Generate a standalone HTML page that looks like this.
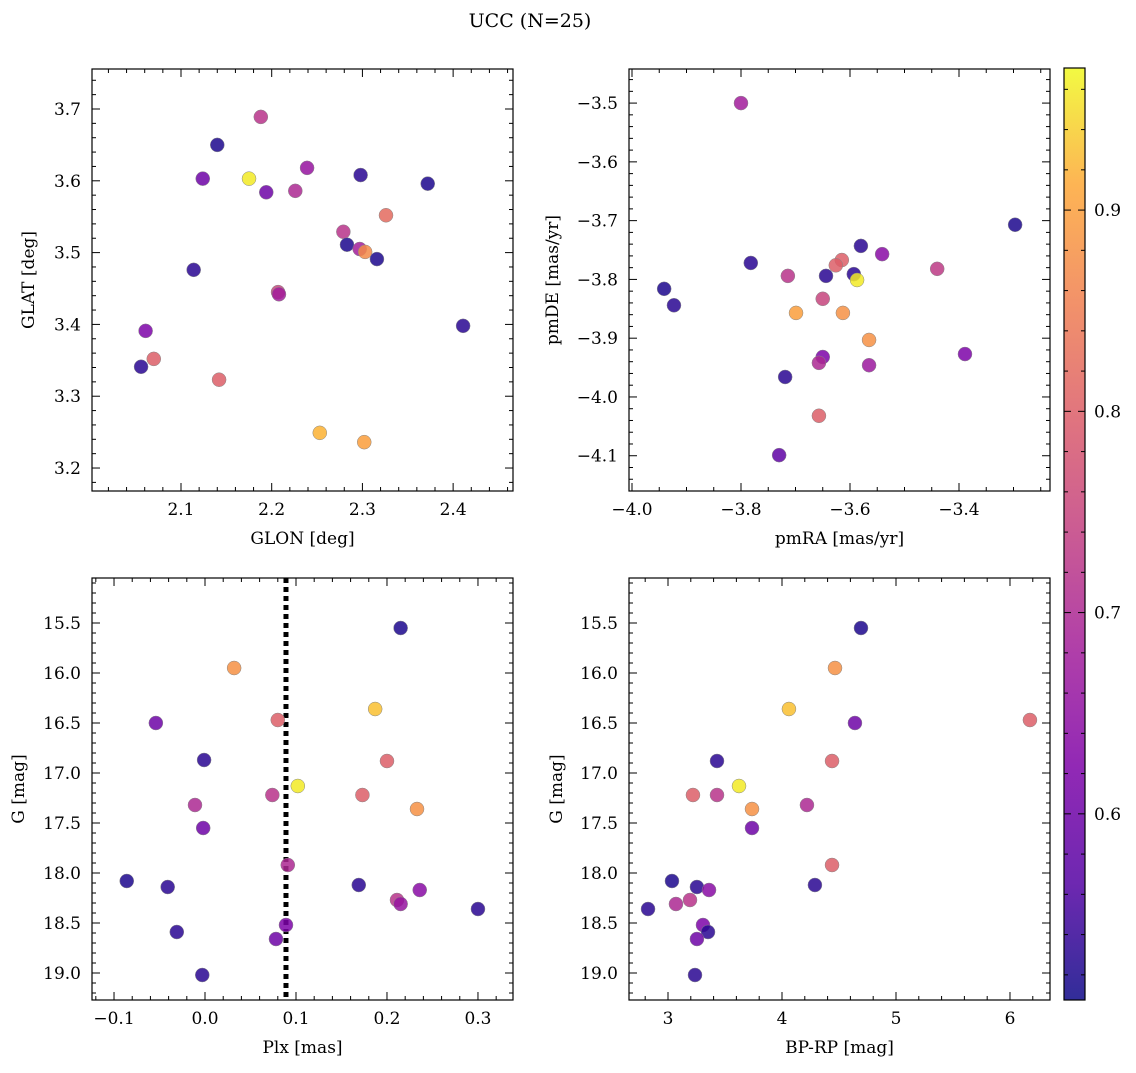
<!DOCTYPE html>
<html><head><meta charset="utf-8"><style>
body{margin:0;background:#fff;}
svg text{font-family:"DejaVu Serif","Liberation Serif",serif;fill:#000;}
</style></head><body>
<svg id="fig" width="1136" height="1068" xmlns="http://www.w3.org/2000/svg">
<text x="530" y="27" font-size="19" text-anchor="middle">UCC (N=25)</text>
</svg>
<script>
// Panel 1: GLON / GLAT
const glon=[2.188,2.140,2.175,2.124,2.194,2.226,2.239,2.298,2.372,2.326,2.279,2.283,2.297,2.303,2.316,2.114,2.207,2.208,2.411,2.061,2.070,2.056,2.142,2.253,2.302];
const glat=[3.689,3.650,3.603,3.603,3.584,3.586,3.618,3.608,3.596,3.552,3.529,3.511,3.505,3.501,3.491,3.476,3.445,3.442,3.398,3.391,3.352,3.341,3.323,3.249,3.236];
const prob1=[0.72,0.52,0.96,0.60,0.60,0.70,0.66,0.53,0.52,0.82,0.72,0.52,0.68,0.87,0.52,0.53,0.75,0.68,0.53,0.62,0.80,0.53,0.80,0.92,0.90];
// Panel 2: pmRA / pmDE
const pmra=[-3.800,-3.297,-3.580,-3.541,-3.782,-3.615,-3.626,-3.440,-3.714,-3.644,-3.593,-3.587,-3.941,-3.923,-3.650,-3.699,-3.613,-3.565,-3.650,-3.389,-3.657,-3.565,-3.719,-3.657,-3.730];
const pmde=[-3.500,-3.707,-3.743,-3.757,-3.772,-3.767,-3.776,-3.782,-3.794,-3.794,-3.791,-3.801,-3.816,-3.844,-3.833,-3.857,-3.857,-3.903,-3.932,-3.927,-3.942,-3.946,-3.966,-4.032,-4.099];
const prob2=[0.68,0.52,0.53,0.64,0.53,0.80,0.80,0.73,0.72,0.53,0.53,0.96,0.52,0.53,0.75,0.90,0.88,0.88,0.62,0.62,0.70,0.67,0.53,0.80,0.58];
// Panel 3: Plx / G
const plx=[0.215,0.032,0.187,0.080,-0.054,-0.001,0.200,0.102,0.074,0.173,-0.011,0.233,-0.002,0.091,-0.086,0.169,-0.041,0.236,0.211,0.215,0.300,0.089,-0.031,0.078,-0.003];
const gmag=[15.55,15.95,16.36,16.47,16.50,16.87,16.88,17.13,17.22,17.22,17.32,17.36,17.55,17.92,18.08,18.12,18.14,18.17,18.27,18.31,18.36,18.52,18.59,18.66,19.02];
const prob3=[0.52,0.88,0.93,0.80,0.60,0.53,0.80,0.96,0.72,0.80,0.70,0.88,0.60,0.70,0.52,0.53,0.53,0.64,0.72,0.66,0.53,0.62,0.53,0.60,0.53];
const plxLine=[0.089];
// Panel 4: BP-RP / G
const bprp=[4.693,4.465,4.061,6.175,4.640,3.430,4.439,3.623,3.219,3.430,3.737,4.219,3.737,4.439,3.035,3.254,4.289,3.360,3.070,3.193,2.825,3.307,3.351,3.254,3.237];
const gmag4=[15.55,15.95,16.36,16.47,16.50,16.88,16.88,17.13,17.22,17.22,17.36,17.32,17.55,17.92,18.08,18.14,18.12,18.17,18.31,18.27,18.36,18.52,18.59,18.66,19.02];
const prob4=[0.52,0.88,0.93,0.80,0.60,0.53,0.80,0.96,0.80,0.72,0.88,0.70,0.60,0.80,0.52,0.53,0.53,0.64,0.70,0.72,0.53,0.62,0.53,0.60,0.53];
const cbTicks=[0.6,0.7,0.8,0.9];

const NS="http://www.w3.org/2000/svg";
const svg=document.getElementById('fig');
function mk(tag,attrs,parent){const e=document.createElementNS(NS,tag);for(const k in attrs)e.setAttribute(k,attrs[k]);(parent||svg).appendChild(e);return e;}
const plasma=[[0,13,8,135],[0.125,84,2,163],[0.25,126,3,168],[0.375,162,29,154],[0.5,193,62,129],[0.625,219,92,104],[0.75,240,127,79],[0.875,253,167,54],[1,240,249,33]];
const VMIN=0.5075,VMAX=0.9706;
function cmap(v){let t=(v-VMIN)/(VMAX-VMIN);t=Math.max(0,Math.min(1,t));
 for(let i=0;i<plasma.length-1;i++){const a=plasma[i],b=plasma[i+1];if(t<=b[0]){const f=(t-a[0])/(b[0]-a[0]);
 return `rgb(${Math.round(a[1]+f*(b[1]-a[1]))},${Math.round(a[2]+f*(b[2]-a[2]))},${Math.round(a[3]+f*(b[3]-a[3]))})`;}}return 'rgb(240,249,33)';}
function fmt(v,d){let s=v.toFixed(d);if(s.startsWith('-'))s='\u2212'+s.slice(1);if(s==='\u22120.0')s='0.0';return s;}

function panel(o){
 const g=mk('g',{});
 
 
 const X=v=>o.x0+(v-o.xmin)/(o.xmax-o.xmin)*(o.x1-o.x0);
 const Y=o.yinv?(v=>o.y0+(v-o.ymin)/(o.ymax-o.ymin)*(o.y1-o.y0)):(v=>o.y1-(v-o.ymin)/(o.ymax-o.ymin)*(o.y1-o.y0));
 const eps=1e-9;
 function ticksFor(min,max,step,nd){const maj=[],min_=[];const s0=Math.ceil((min-eps)/ (step/nd));
  for(let k=s0;k*(step/nd)<=max+eps;k++){const v=k*step/nd;if(Math.abs(Math.round(v/step)*step-v)<1e-7)maj.push(Math.round(v/step)*step);else min_.push(v);}return [maj,min_];}
 const [xM,xm]=ticksFor(o.xmin,o.xmax,o.xstep,o.xnd);
 const [yM,ym]=ticksFor(Math.min(o.ymin,o.ymax),Math.max(o.ymin,o.ymax),o.ystep,o.ynd);
 xM.forEach(v=>{const px=X(v);mk('line',{x1:px,x2:px,y1:o.y1,y2:o.y1-8,stroke:'#000'},g);mk('line',{x1:px,x2:px,y1:o.y0,y2:o.y0+8,stroke:'#000'},g);
  const t=mk('text',{x:px,y:o.y1+24,'font-size':17,'text-anchor':'middle'},g);t.textContent=fmt(v,o.xd);
  });
 xm.forEach(v=>{const px=X(v);mk('line',{x1:px,x2:px,y1:o.y1,y2:o.y1-4,stroke:'#000'},g);mk('line',{x1:px,x2:px,y1:o.y0,y2:o.y0+4,stroke:'#000'},g);});
 yM.forEach(v=>{const py=Y(v);mk('line',{x1:o.x0,x2:o.x0+8,y1:py,y2:py,stroke:'#000'},g);mk('line',{x1:o.x1,x2:o.x1-8,y1:py,y2:py,stroke:'#000'},g);
  const t=mk('text',{x:o.x0-11,y:py+6,'font-size':17,'text-anchor':'end'},g);t.textContent=fmt(v,o.yd);
  });
 ym.forEach(v=>{const py=Y(v);mk('line',{x1:o.x0,x2:o.x0+4,y1:py,y2:py,stroke:'#000'},g);mk('line',{x1:o.x1,x2:o.x1-4,y1:py,y2:py,stroke:'#000'},g);});
 const xl=mk('text',{x:(o.x0+o.x1)/2,y:o.y1+53,'font-size':17,'text-anchor':'middle'},g);xl.textContent=o.xlabel;
 
 const yc=(o.y0+o.y1)/2;const yl=mk('text',{x:o.ylx,y:yc,'font-size':17,'text-anchor':'middle',transform:`rotate(-90 ${o.ylx} ${yc})`},g);yl.textContent=o.ylabel;
 
 if(o.vline!==undefined){const l=mk('line',{x1:X(o.vline),x2:X(o.vline),y1:o.y0,y2:o.y1,stroke:'#000','stroke-width':5,'stroke-dasharray':'5 4'},g);
  }
 o.xs.forEach((v,i)=>{const c=mk('circle',{cx:X(v),cy:Y(o.ys[i]),r:7,fill:cmap(o.cs[i]),'fill-opacity':0.85,stroke:'#888','stroke-width':0.5},g);
  });
 const f=mk('rect',{x:o.x0,y:o.y0,width:o.x1-o.x0,height:o.y1-o.y0,fill:'none',stroke:'#000','stroke-width':1.2},g);
 
}
panel({name:'glon-glat-panel',x0:92,x1:513,y0:69,y1:491,xmin:2.0019,xmax:2.466,ymin:3.168,ymax:3.7557,xstep:0.1,xnd:5,ystep:0.1,ynd:5,xd:1,yd:1,xlabel:'GLON [deg]',ylabel:'GLAT [deg]',ylx:34,xs:glon,ys:glat,cs:prob1});
panel({name:'pm-panel',x0:629,x1:1050,y0:69,y1:491,xmin:-4.0055,xmax:-3.233,ymin:-4.160,ymax:-3.442,xstep:0.2,xnd:4,ystep:0.1,ynd:5,xd:1,yd:1,xlabel:'pmRA [mas/yr]',ylabel:'pmDE [mas/yr]',ylx:558,xs:pmra,ys:pmde,cs:prob2});
panel({name:'plx-g-panel',x0:92,x1:513,y0:578,y1:1000,xmin:-0.1242,xmax:0.3385,ymin:15.05,ymax:19.27,yinv:true,xstep:0.1,xnd:5,ystep:0.5,ynd:5,xd:1,yd:1,xlabel:'Plx [mas]',ylabel:'G [mag]',ylx:24,xs:plx,ys:gmag,cs:prob3,vline:plxLine[0]});
panel({name:'cmd-panel',x0:629,x1:1050,y0:578,y1:1000,xmin:2.658,xmax:6.351,ymin:15.05,ymax:19.27,yinv:true,xstep:1,xnd:5,ystep:0.5,ynd:5,xd:0,yd:1,xlabel:'BP-RP [mag]',ylabel:'G [mag]',ylx:562,xs:bprp,ys:gmag4,cs:prob4});
const cb=mk('g',{});


const cx0=1064,cx1=1085,cy0=68,cy1=1000;
const defs=mk('defs',{},cb);const lg=mk('linearGradient',{id:'cbg',x1:0,y1:1,x2:0,y2:0},defs);
plasma.forEach(s=>mk('stop',{offset:s[0],'stop-color':`rgb(${s[1]},${s[2]},${s[3]})`,'stop-opacity':0.85},lg));
mk('rect',{x:cx0,y:cy0,width:cx1-cx0,height:cy1-cy0,fill:'url(#cbg)',stroke:'#000','stroke-width':1.2},cb);
const CY=v=>cy1-(v-VMIN)/(VMAX-VMIN)*(cy1-cy0);
for(let v=0.52;v<VMAX;v+=0.02){const py=CY(v);const isMaj=cbTicks.some(t=>Math.abs(t-v)<1e-6);
 mk('line',{x1:cx1,x2:cx1-(isMaj?7:4),y1:py,y2:py,stroke:'#000'},cb);mk('line',{x1:cx0,x2:cx0+(isMaj?7:4),y1:py,y2:py,stroke:'#000'},cb);}
cbTicks.forEach(v=>{const t=mk('text',{x:cx1+9,y:CY(v)+6,'font-size':17},cb);t.textContent=v.toFixed(1);
 });
</script>
</body></html>
